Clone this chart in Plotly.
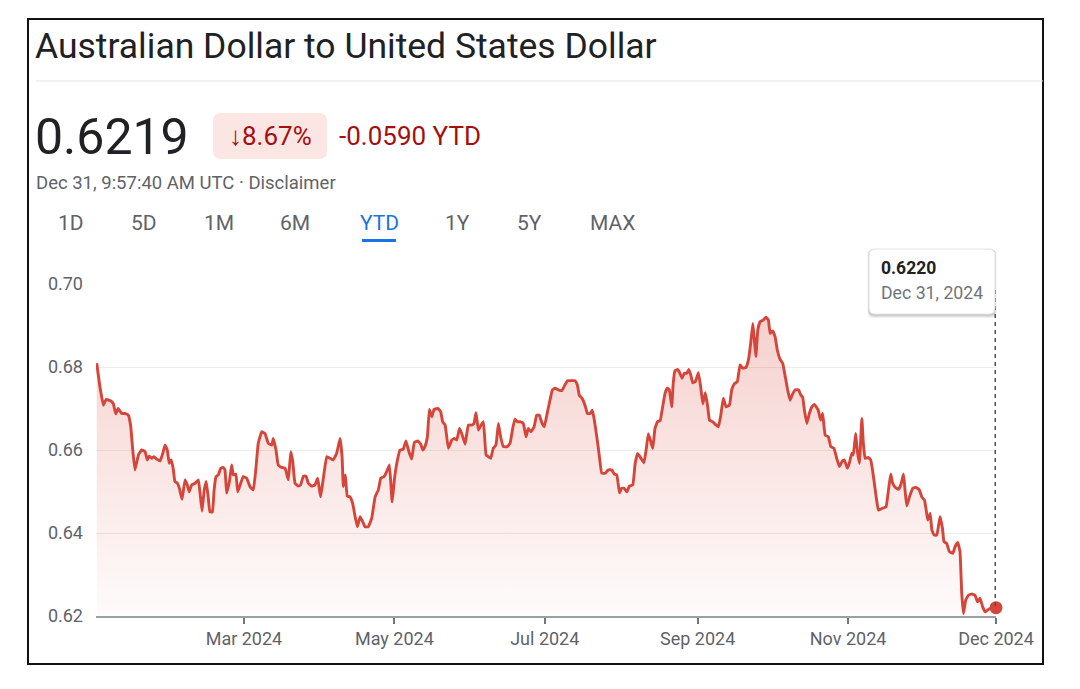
import pandas as pd
import plotly.graph_objects as go

# ---------------- data (day offset from 2024-01-01, AUD/USD rate) ----------------
day_offset = [0.3, 1.6, 3.0, 4.1, 5.7, 7.0, 8.0, 9.0, 10.4, 11.8, 13.1, 14.1, 14.9, 15.8, 17.2, 18.5,
              19.9, 20.8, 21.6, 22.6, 23.5, 24.6, 26.0, 27.1, 28.0, 28.9, 29.7, 30.5, 31.4, 32.0, 33.0,
              33.8, 34.9, 36.1, 37.0, 37.8, 38.8, 40.2, 41.5, 42.2, 43.0, 43.9, 44.7, 45.5, 46.2, 47.2,
              47.9, 48.7, 49.6, 50.6, 51.6, 52.3, 53.0, 54.1, 55.0, 55.7, 56.7, 57.5, 58.7, 59.7, 61.1,
              62.5, 63.8, 64.8, 65.8, 67.2, 68.5, 69.9, 71.3, 71.9, 73.0, 73.9, 75.3, 76.7, 78.0, 79.0,
              79.8, 80.7, 82.1, 83.0, 84.1, 85.2, 86.1, 87.5, 88.8, 89.9, 91.1, 92.2, 93.6, 94.9, 96.2,
              97.6, 99.0, 99.8, 100.3, 101.1, 101.9, 103.0, 104.1, 105.1, 106.0, 107.1, 108.2, 109.1,
              110.4, 111.8, 113.2, 114.5, 115.5, 116.8, 117.9, 119.0, 120.1, 121.0, 122.0, 123.3, 124.6,
              125.7, 126.7, 128.0, 129.1, 130.5, 131.7, 132.5, 133.4, 134.4, 135.2, 136.2, 137.1, 138.8,
              139.8, 140.6, 141.6, 142.9, 144.3, 145.3, 146.3, 147.4, 148.3, 149.7, 151.0, 152.4, 153.3,
              154.1, 155.1, 156.2, 157.1, 158.2, 159.1, 160.1, 161.1, 162.2, 163.2, 164.1, 165.2, 166.8,
              167.9, 169.0, 169.9, 171.0, 172.3, 173.3, 174.4, 175.3, 176.4, 177.7, 178.7, 179.8, 180.9,
              181.8, 183.1, 184.1, 185.1, 186.2, 187.5, 188.9, 190.2, 191.2, 192.5, 194.3, 195.2, 196.0,
              197.1, 198.3, 199.3, 200.4, 201.3, 202.0, 203.1, 204.0, 205.1, 206.5, 207.8, 209.2, 210.2,
              211.2, 212.3, 213.2, 214.2, 215.3, 216.3, 217.7, 218.6, 219.6, 220.6, 222.2, 223.1, 224.0,
              225.0, 225.8, 226.7, 227.7, 228.8, 229.8, 230.8, 231.7, 232.5, 233.5, 234.1, 234.8, 235.9,
              236.8, 237.7, 238.6, 239.6, 240.4, 241.2, 242.0, 243.1, 244.3, 245.3, 246.1, 247.1, 248.0,
              248.8, 250.1, 251.5, 252.4, 253.4, 254.4, 255.5, 256.9, 257.8, 258.8, 260.1, 261.2, 262.3,
              263.6, 264.6, 265.5, 266.4, 267.0, 267.6, 268.4, 269.3, 270.6, 271.7, 272.7, 273.4, 274.4,
              275.4, 276.3, 277.4, 278.5, 279.4, 280.5, 281.5, 282.6, 283.6, 284.9, 285.8, 286.6, 287.3,
              288.3, 289.3, 290.3, 291.4, 292.9, 293.9, 294.7, 295.7, 297.0, 298.0, 299.3, 300.4, 301.5,
              302.7, 303.5, 304.7, 305.5, 306.5, 307.1, 308.1, 308.8, 309.6, 310.6, 311.2, 311.9, 313.2,
              314.2, 315.3, 316.4, 317.3, 318.7, 320.4, 321.4, 322.3, 323.1, 324.1, 325.4, 326.4, 327.5,
              328.1, 328.8, 329.9, 331.3, 332.6, 333.9, 334.9, 336.0, 336.6, 337.3, 338.3, 339.0, 339.9,
              341.0, 342.3, 343.3, 343.9, 345.0, 346.1, 347.5, 348.4, 349.5, 350.4, 351.1, 351.8, 352.7,
              353.8, 355.2, 356.5, 357.5, 358.5, 359.6, 360.6, 361.5, 362.6, 364.0, 365.0]

rate = [0.6809, 0.6752, 0.6708, 0.6722, 0.6719, 0.6712, 0.6687, 0.6700, 0.6688, 0.6688, 0.6684, 0.6656,
        0.6600, 0.6552, 0.6588, 0.6600, 0.6596, 0.6576, 0.6585, 0.6580, 0.6584, 0.6578, 0.6574, 0.6592,
        0.6612, 0.6600, 0.6568, 0.6576, 0.6552, 0.6524, 0.6520, 0.6508, 0.6481, 0.6528, 0.6516, 0.6499,
        0.6516, 0.6520, 0.6528, 0.6496, 0.6453, 0.6504, 0.6524, 0.6487, 0.6451, 0.6451, 0.6504, 0.6536,
        0.6540, 0.6556, 0.6558, 0.6552, 0.6496, 0.6524, 0.6564, 0.6540, 0.6542, 0.6499, 0.6520, 0.6536,
        0.6532, 0.6511, 0.6504, 0.6552, 0.6616, 0.6644, 0.6640, 0.6616, 0.6612, 0.6628, 0.6600, 0.6564,
        0.6558, 0.6556, 0.6528, 0.6596, 0.6572, 0.6520, 0.6513, 0.6516, 0.6537, 0.6537, 0.6520, 0.6513,
        0.6516, 0.6532, 0.6487, 0.6532, 0.6584, 0.6580, 0.6576, 0.6592, 0.6628, 0.6584, 0.6512, 0.6540,
        0.6489, 0.6487, 0.6471, 0.6439, 0.6415, 0.6439, 0.6427, 0.6415, 0.6415, 0.6435, 0.6487, 0.6504,
        0.6532, 0.6536, 0.6548, 0.6564, 0.6475, 0.6528, 0.6568, 0.6600, 0.6602, 0.6622, 0.6600, 0.6578,
        0.6618, 0.6622, 0.6614, 0.6600, 0.6608, 0.6632, 0.6698, 0.6680, 0.6698, 0.6700, 0.6692, 0.6668,
        0.6660, 0.6604, 0.6624, 0.6628, 0.6624, 0.6652, 0.6640, 0.6614, 0.6660, 0.6660, 0.6664, 0.6690,
        0.6648, 0.6660, 0.6668, 0.6588, 0.6584, 0.6580, 0.6604, 0.6612, 0.6664, 0.6632, 0.6608, 0.6608,
        0.6616, 0.6652, 0.6674, 0.6668, 0.6668, 0.6664, 0.6632, 0.6652, 0.6644, 0.6656, 0.6684, 0.6684,
        0.6664, 0.6656, 0.6692, 0.6720, 0.6745, 0.6749, 0.6745, 0.6743, 0.6757, 0.6767, 0.6767, 0.6767,
        0.6757, 0.6732, 0.6725, 0.6708, 0.6688, 0.6688, 0.6696, 0.6676, 0.6632, 0.6592, 0.6544, 0.6544,
        0.6552, 0.6552, 0.6542, 0.6540, 0.6497, 0.6508, 0.6508, 0.6499, 0.6513, 0.6516, 0.6565, 0.6592,
        0.6584, 0.6569, 0.6600, 0.6639, 0.6620, 0.6604, 0.6652, 0.6668, 0.6671, 0.6704, 0.6737, 0.6749,
        0.6745, 0.6704, 0.6761, 0.6791, 0.6794, 0.6785, 0.6773, 0.6785, 0.6785, 0.6794, 0.6781, 0.6762,
        0.6765, 0.6786, 0.6749, 0.6711, 0.6738, 0.6708, 0.6672, 0.6668, 0.6660, 0.6656, 0.6684, 0.6725,
        0.6704, 0.6708, 0.6745, 0.6759, 0.6765, 0.6805, 0.6797, 0.6799, 0.6817, 0.6857, 0.6905, 0.6865,
        0.6825, 0.6889, 0.6909, 0.6913, 0.6920, 0.6913, 0.6881, 0.6887, 0.6873, 0.6841, 0.6819, 0.6809,
        0.6781, 0.6745, 0.6720, 0.6736, 0.6745, 0.6745, 0.6733, 0.6727, 0.6696, 0.6664, 0.6688, 0.6704,
        0.6710, 0.6696, 0.6672, 0.6688, 0.6636, 0.6632, 0.6608, 0.6604, 0.6580, 0.6560, 0.6574, 0.6576,
        0.6556, 0.6568, 0.6592, 0.6588, 0.6640, 0.6596, 0.6568, 0.6676, 0.6616, 0.6580, 0.6582, 0.6576,
        0.6536, 0.6487, 0.6455, 0.6459, 0.6463, 0.6504, 0.6542, 0.6520, 0.6510, 0.6505, 0.6516, 0.6542,
        0.6504, 0.6465, 0.6487, 0.6508, 0.6510, 0.6504, 0.6487, 0.6479, 0.6459, 0.6431, 0.6447, 0.6407,
        0.6395, 0.6395, 0.6439, 0.6411, 0.6379, 0.6375, 0.6355, 0.6351, 0.6367, 0.6377, 0.6355, 0.6255,
        0.6206, 0.6238, 0.6250, 0.6253, 0.6250, 0.6234, 0.6243, 0.6222, 0.6210, 0.6214, 0.6218, 0.6221,
        0.6220]

y_ticks = [0.62, 0.64, 0.66, 0.68, 0.70]
y_tick_labels = ["0.62", "0.64", "0.66", "0.68", "0.70"]
x_tick_dates = ["2024-03-01", "2024-05-01", "2024-07-01", "2024-09-01", "2024-11-01", "2024-12-31"]
x_tick_labels = ["Mar 2024", "May 2024", "Jul 2024", "Sep 2024", "Nov 2024", "Dec 2024"]
tabs = ["1D", "5D", "1M", "6M", "YTD", "1Y", "5Y", "MAX"]
active_tab = "YTD"

title_text = "Australian Dollar to United States Dollar"
last_price = "0.6219"
pct_change = "↓8.67%"
abs_change = "-0.0590 YTD"
timestamp = "Dec 31, 9:57:40 AM UTC · Disclaimer"
tooltip_value = "0.6220"
tooltip_date = "Dec 31, 2024"

# ---------------- figure ----------------
W, H = 1080, 689
FONT = "Roboto, Arial, sans-serif"
RED = "#d6453a"
GRAY = "#5f6368"

dates = pd.Timestamp("2024-01-01") + pd.to_timedelta(day_offset, unit="D")


def px(x):
    return x / W


def py(y):
    return 1 - y / H


def rounded_rect(x0, y0, x1, y1, r):
    rx, ry = r / W, r / H
    X0, X1 = px(x0), px(x1)
    Y0, Y1 = py(y0), py(y1)  # Y0 top, Y1 bottom
    return (f"M {X0+rx},{Y0} L {X1-rx},{Y0} Q {X1},{Y0} {X1},{Y0-ry} "
            f"L {X1},{Y1+ry} Q {X1},{Y1} {X1-rx},{Y1} L {X0+rx},{Y1} "
            f"Q {X0},{Y1} {X0},{Y1+ry} L {X0},{Y0-ry} Q {X0},{Y0} {X0+rx},{Y0} Z")


fig = go.Figure()
fig.add_trace(go.Scatter(
    x=dates, y=rate, mode="lines",
    line=dict(color=RED, width=2.9, shape="spline", smoothing=0.3),
    fill="tozeroy",
    fillgradient=dict(type="vertical", start=0.62, stop=0.692,
                      colorscale=[[0, "rgba(216,71,58,0.02)"], [1, "rgba(216,71,58,0.25)"]]),
    hoverinfo="skip", showlegend=False,
))
fig.add_trace(go.Scatter(
    x=[dates[-1]], y=[rate[-1]], mode="markers",
    marker=dict(color=RED, size=13), cliponaxis=False,
    hoverinfo="skip", showlegend=False,
))

fig.update_layout(
    width=W, height=H, autosize=False,
    margin=dict(l=0, r=0, t=0, b=0, pad=0, autoexpand=False),
    paper_bgcolor="white", plot_bgcolor="white",
    font=dict(family=FONT, color=GRAY),
    xaxis=dict(
        domain=[px(96), px(996)], automargin=False,
        range=[pd.Timestamp("2024-01-01"), pd.Timestamp("2024-12-31")],
        tickvals=x_tick_dates, ticktext=x_tick_labels,
        ticks="outside", ticklen=6, tickcolor="#70757a", tickwidth=1.6,
        showline=True, linecolor="#9aa0a6", linewidth=1.5,
        showgrid=False, zeroline=False,
        tickfont=dict(size=18, color=GRAY, family=FONT),
    ),
    yaxis=dict(
        domain=[py(616), py(284)], automargin=False,
        range=[0.62, 0.70],
        tickvals=y_ticks, ticktext=y_tick_labels,
        showgrid=True, gridcolor="#ececec", gridwidth=1,
        zeroline=False, showline=False, ticks="",
        ticklabelstandoff=12,
        tickfont=dict(size=18, color=GRAY, family=FONT),
    ),
)

shapes = []
# outer frame
shapes.append(dict(type="rect", xref="paper", yref="paper",
                   x0=px(28), x1=px(1043), y0=py(664), y1=py(19),
                   line=dict(color="#111111", width=2), layer="above"))
# header separator
shapes.append(dict(type="line", xref="paper", yref="paper",
                   x0=px(36), x1=px(1043), y0=py(81), y1=py(81),
                   line=dict(color="#e3e3e3", width=1)))
# change badge
shapes.append(dict(type="path", xref="paper", yref="paper",
                   path=rounded_rect(213, 113, 327, 159, 8),
                   fillcolor="#fbe6e3", line=dict(width=0)))
# active tab underline
shapes.append(dict(type="line", xref="paper", yref="paper",
                   x0=px(362), x1=px(396), y0=py(240.5), y1=py(240.5),
                   line=dict(color="#1a73e8", width=3)))
# dotted crosshair
shapes.append(dict(type="line", xref="x", yref="paper",
                   x0=dates[-1], x1=dates[-1], y0=py(606), y1=py(288),
                   line=dict(color="#4a4e52", width=3, dash="4px,4px")))
# tooltip shadow + box
for off, a in [(3, 0.05), (2, 0.07), (1, 0.09)]:
    shapes.append(dict(type="path", xref="paper", yref="paper",
                       path=rounded_rect(869 - off / 2, 249, 995 + off / 2, 315 + off, 6),
                       fillcolor=f"rgba(0,0,0,{a})", line=dict(width=0)))
shapes.append(dict(type="path", xref="paper", yref="paper",
                   path=rounded_rect(869, 249, 995, 314, 6),
                   fillcolor="white", line=dict(color="#e2e2e2", width=1)))
fig.update_layout(shapes=shapes)

ann = []


def text(t, x, y, size, color=GRAY, anchor="left", bold=False):
    ann.append(dict(text=f"<b>{t}</b>" if bold else t, x=px(x), y=py(y), xref="paper", yref="paper",
                    xanchor=anchor, yanchor="middle", showarrow=False,
                    font=dict(size=size, color=color, family=FONT)))


text(title_text, 33, 46, 35.5, "#202124")
text(last_price, 33, 137, 50, "#202124")
text(pct_change, 270, 136, 26, "#a50e0e", anchor="center")
text(abs_change, 337, 136, 26, "#a50e0e")
text(timestamp, 34, 183, 18.5, "#5f6368")
tab_x = [71, 144, 219, 295, 379, 457, 529, 612]
for t, x in zip(tabs, tab_x):
    text(t, x, 223, 21, "#1a73e8" if t == active_tab else "#5f6368", anchor="center")
text(tooltip_value, 879, 268, 17.5, "#202124", bold=True)
text(tooltip_date, 879, 293, 17.7, "#70757a")
fig.update_layout(annotations=ann)

fig.write_html(
    "out.html",
    config={"displayModeBar": False},
    post_script=("document.body.style.margin='0';document.body.style.overflow='hidden';"
                 "var gd=document.getElementById('{plot_id}');gd.style.position='absolute';"
                 "gd.style.left='0px';gd.style.top='0px';"),
)
